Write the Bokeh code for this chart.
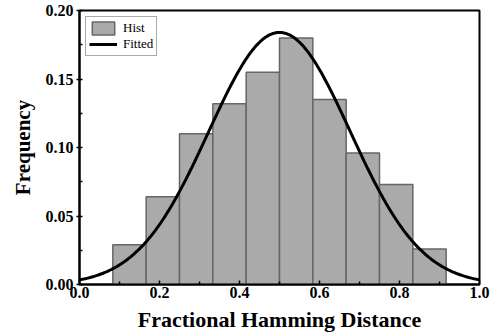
import numpy as np
from bokeh.plotting import figure
from bokeh.models import ColumnDataSource, Range1d, Legend, LegendItem, FixedTicker
from bokeh.embed import file_html
from bokeh.resources import INLINE

# Histogram bins (bin width = 1/12)
bin_left = [1/12, 2/12, 3/12, 4/12, 5/12, 6/12, 7/12, 8/12, 9/12, 10/12]
bin_right = [2/12, 3/12, 4/12, 5/12, 6/12, 7/12, 8/12, 9/12, 10/12, 11/12]
freq = [0.029, 0.064, 0.110, 0.132, 0.155, 0.180, 0.135, 0.096, 0.073, 0.026]

# Fitted Gaussian parameters
fit_mu = 0.5
fit_sigma = 0.177
fit_peak = 0.184

x_ticks = [0.0, 0.2, 0.4, 0.6, 0.8, 1.0]
y_ticks = [0.00, 0.05, 0.10, 0.15, 0.20]

FONT = "Liberation Serif"

p = figure(width=492, height=334, output_backend="svg", toolbar_location=None,
           x_range=Range1d(0, 1.0), y_range=Range1d(0, 0.20),
           min_border_left=79, min_border_right=13, min_border_top=10, min_border_bottom=50)

src = ColumnDataSource(dict(left=bin_left, right=bin_right, top=freq, bottom=[0]*len(freq)))
bars = p.quad(left="left", right="right", top="top", bottom="bottom", source=src,
              fill_color="#aaaaaa", line_color="#666666", line_width=1.5)

xs = np.linspace(0, 1, 300)
ys = fit_peak * np.exp(-(xs - fit_mu) ** 2 / (2 * fit_sigma ** 2))
line = p.line(xs, ys, line_color="black", line_width=3)

legend = Legend(items=[LegendItem(label="Hist", renderers=[bars]),
                       LegendItem(label="Fitted", renderers=[line])],
                location="top_left")
legend.label_text_font = FONT
legend.label_text_font_size = "13px"
legend.label_text_color = "black"
legend.border_line_color = "#555555"
legend.border_line_width = 1
legend.padding = 3
legend.spacing = 0
legend.margin = 6
legend.glyph_width = 28
legend.glyph_height = 16
legend.label_standoff = 6
legend.label_height = 16
p.add_layout(legend, "center")

p.grid.visible = False
p.outline_line_color = "black"
p.outline_line_width = 2

for ax in (p.xaxis[0], p.yaxis[0]):
    ax.axis_line_width = 2
    ax.axis_line_color = "black"
    ax.major_tick_line_color = "black"
    ax.minor_tick_line_color = "black"
    ax.major_tick_line_width = 1.5
    ax.minor_tick_line_width = 1.5
    ax.major_label_text_font = FONT
    ax.major_label_text_font_style = "bold"
    ax.major_label_text_font_size = "16px"
    ax.major_label_text_color = "black"
    ax.axis_label_text_font = FONT
    ax.axis_label_text_font_style = "bold"
    ax.axis_label_text_color = "black"
    ax.minor_tick_in = 3
    ax.minor_tick_out = 0

p.xaxis.axis_label_text_font_size = "22px"
p.yaxis.axis_label_text_font_size = "21px"
p.xaxis.ticker = FixedTicker(ticks=x_ticks, minor_ticks=[0.1, 0.3, 0.5, 0.7, 0.9])
p.yaxis.ticker = FixedTicker(ticks=y_ticks, minor_ticks=[0.025, 0.075, 0.125, 0.175])
p.xaxis.major_label_overrides = {v: f"{v:.1f}" for v in x_ticks}
p.yaxis.major_label_overrides = {v: f"{v:.2f}" for v in y_ticks}
p.xaxis.major_tick_in = 4
p.xaxis.major_tick_out = 0
p.yaxis.major_tick_in = 3
p.yaxis.major_tick_out = 3
p.xaxis.major_label_standoff = 2
p.yaxis.major_label_standoff = 3
p.xaxis.axis_label = "Fractional Hamming Distance"
p.yaxis.axis_label = "Frequency"
p.xaxis.axis_label_standoff = 6
p.yaxis.axis_label_standoff = 8

open("out.html", "w").write(file_html(p, INLINE))
